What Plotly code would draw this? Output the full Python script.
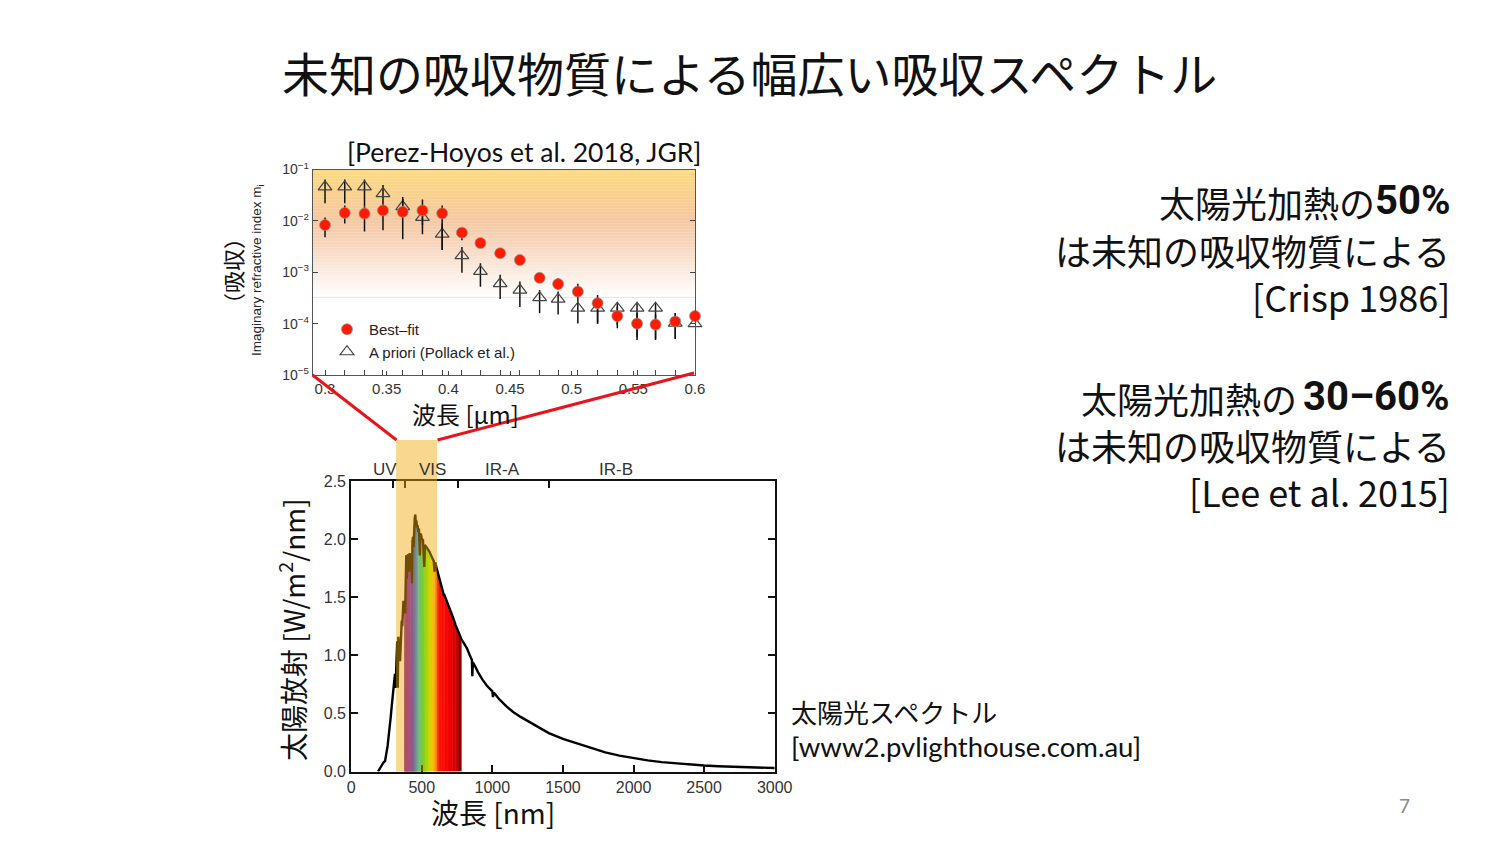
import plotly.graph_objects as go

W, H = 1500, 843

# ---------------- top panel data (Perez-Hoyos et al. 2018) ----------------
wl_um = [0.300, 0.316, 0.332, 0.347, 0.363, 0.379, 0.395, 0.411, 0.426, 0.442,
         0.458, 0.474, 0.489, 0.505, 0.521, 0.537, 0.553, 0.568, 0.584, 0.600]
best_fit = [8.3e-3, 1.43e-2, 1.39e-2, 1.6e-2, 1.5e-2, 1.6e-2, 1.4e-2, 5.9e-3, 3.7e-3, 2.35e-3,
            1.73e-3, 7.8e-4, 5.9e-4, 4.2e-4, 2.5e-4, 1.4e-4, 1.0e-4, 9.6e-5, 1.1e-4, 1.4e-4]
best_hi = [1.16e-2, 2.0e-2, 1.9e-2, 2.35e-2, 2.7e-2, 2.6e-2, 2.0e-2, 7.4e-3, 3.7e-3, 2.35e-3,
           1.73e-3, 9.5e-4, 7.6e-4, 6.0e-4, 3.6e-4, 2.1e-4, 1.6e-4, 1.5e-4, 1.6e-4, 1.4e-4]
best_lo = [4.8e-3, 8.9e-3, 6.2e-3, 6.6e-3, 4.4e-3, 5.5e-3, 2.7e-3, 4.2e-3, 3.7e-3, 2.35e-3,
           1.73e-3, 6.3e-4, 4.5e-4, 2.7e-4, 1.0e-4, 8.1e-5, 5.4e-5, 4.8e-5, 5.0e-5, 1.4e-4]
apriori = [4.6e-2, 4.6e-2, 4.6e-2, 3.4e-2, 1.9e-2, 1.17e-2, 5.5e-3, 2.1e-3, 1.04e-3, 6.0e-4,
           4.5e-4, 3.2e-4, 3.0e-4, 2.0e-4, 2.0e-4, 2.0e-4, 2.0e-4, 2.0e-4, 1.02e-4, 1.0e-4]
apriori_hi = [6.4e-2, 6.4e-2, 6.4e-2, 5.0e-2, 2.9e-2, 1.75e-2, 8.9e-3, 3.1e-3, 1.5e-3, 8.9e-4,
              6.6e-4, 4.5e-4, 4.2e-4, 2.7e-4, 3.3e-4, 2.5e-4, 2.5e-4, 2.5e-4, 1.6e-4, 1.0e-4]
apriori_lo = [2.2e-2, 2.2e-2, 1.9e-2, 2.3e-2, 1.3e-2, 8.3e-3, 2.7e-3, 9.8e-4, 5.2e-4, 3.0e-4,
              2.1e-4, 1.6e-4, 1.5e-4, 1.0e-4, 1.0e-4, 9.5e-5, 4.8e-5, 5.1e-5, 5.1e-5, 1.0e-4]
top_xticks = [0.3, 0.35, 0.4, 0.45, 0.5, 0.55, 0.6]
top_xticklabels = ["0.3", "0.35", "0.4", "0.45", "0.5", "0.55", "0.6"]
top_yticks = [1e-5, 1e-4, 1e-3, 1e-2, 1e-1]
top_yticklabels = ["10<sup>−5</sup>", "10<sup>−4</sup>", "10<sup>−3</sup>", "10<sup>−2</sup>", "10<sup>−1</sup>"]

# ---------------- bottom panel data (solar spectrum) ----------------
spec_nm = [190, 200, 215, 230, 240, 250, 258, 265, 272, 280, 287, 293, 298, 304, 310, 314, 318, 322,
           326, 330, 334, 338, 342, 346, 350, 354, 358, 362, 366, 370, 374, 378, 382, 386, 390, 394,
           398, 402, 406, 410, 414, 418, 422, 426, 430, 434, 438, 442, 446, 450, 454, 458, 462, 466,
           470, 475, 480, 486, 490, 496, 502, 508, 514, 518, 522, 528, 535, 545, 555, 565, 575, 585,
           590, 595, 605, 620, 640, 656, 660, 680, 700, 720, 740, 760, 780, 800, 820, 840, 855, 858,
           862, 880, 900, 930, 960, 1000, 1004, 1010, 1050, 1100, 1150, 1200, 1300, 1400, 1500, 1600,
           1700, 1800, 1900, 2000, 2100, 2200, 2300, 2400, 2500, 2600, 2700, 2800, 2900, 3000]
spec_val = [0.0, 0.02, 0.06, 0.08, 0.09, 0.15, 0.22, 0.30, 0.36, 0.47, 0.56, 0.63, 0.72, 0.78, 0.84, 0.72,
            0.95, 1.07, 1.12, 0.72, 1.16, 0.98, 1.10, 0.95, 1.12, 1.08, 1.30, 1.25, 1.42, 1.47, 1.38, 1.45,
            1.36, 1.62, 1.86, 1.66, 1.80, 1.87, 1.85, 1.72, 1.88, 1.84, 1.80, 1.86, 1.62, 1.98, 2.02, 1.93,
            2.12, 2.18, 2.21, 2.14, 2.16, 2.10, 2.12, 2.06, 2.09, 1.86, 2.05, 2.03, 1.99, 2.00, 1.90, 1.76,
            1.95, 1.94, 1.93, 1.91, 1.89, 1.86, 1.84, 1.81, 1.72, 1.80, 1.75, 1.68, 1.60, 1.52, 1.52, 1.46,
            1.40, 1.33, 1.26, 1.20, 1.14, 1.10, 1.06, 1.00, 0.96, 0.82, 0.94, 0.90, 0.85, 0.79, 0.74, 0.69,
            0.64, 0.68, 0.62, 0.56, 0.51, 0.47, 0.40, 0.33, 0.28, 0.24, 0.20, 0.165, 0.137, 0.114, 0.096,
            0.081, 0.069, 0.059, 0.051, 0.045, 0.040, 0.036, 0.033, 0.030]
bot_xticks = [0, 500, 1000, 1500, 2000, 2500, 3000]
bot_yticks = [0.0, 0.5, 1.0, 1.5, 2.0, 2.5]
band_names = ["UV", "VIS", "IR-A", "IR-B"]
band_label_nm = [240, 575, 1072, 1875]
band_edges_nm = [295, 380, 760, 1400]
visible_range = [380, 780]
highlight_nm = [318, 608]

FONT_JP = "Noto Sans CJK JP"
FONT_SANS = "Liberation Sans"
FONT_LAT = "Lato"
FONT_BOLD = "Liberation Sans Narrow, Roboto"


def px(x):
    return x / W


def py(y):
    return 1 - y / H


def interp_color(stops, v):
    if v <= stops[0][0]:
        return stops[0][1]
    for (a, ca), (b, cb) in zip(stops[:-1], stops[1:]):
        if a <= v <= b:
            t = (v - a) / (b - a)
            return tuple(round(ca[i] + (cb[i] - ca[i]) * t) for i in range(3))
    return stops[-1][1]


rainbow_stops = [(380, (110, 0, 150)), (410, (115, 0, 215)), (440, (40, 30, 255)),
                 (465, (0, 140, 255)), (485, (0, 215, 225)), (505, (0, 235, 90)),
                 (535, (90, 255, 0)), (565, (215, 240, 0)), (585, (255, 205, 0)),
                 (603, (255, 110, 0)), (620, (255, 20, 0)), (700, (240, 0, 0)),
                 (750, (200, 0, 0)), (780, (120, 0, 0))]

fig = go.Figure()

# ---- top panel traces ----
fig.add_trace(go.Scatter(
    x=wl_um, y=apriori, mode="markers", name="A priori (Pollack et al.)",
    marker=dict(symbol="triangle-up-open", size=12, color="#444444", line=dict(width=1.2)),
    error_y=dict(type="data", symmetric=False,
                 array=[h - v for h, v in zip(apriori_hi, apriori)],
                 arrayminus=[v - l for v, l in zip(apriori, apriori_lo)],
                 color="#111111", thickness=1.5, width=0),
    xaxis="x", yaxis="y", cliponaxis=False, legendrank=2))
fig.add_trace(go.Scatter(
    x=wl_um, y=best_fit, mode="markers", name="Best–fit",
    marker=dict(symbol="circle", size=11, color="#FF1A00",
                line=dict(width=1, color="rgba(150,150,150,0.7)")),
    error_y=dict(type="data", symmetric=False,
                 array=[h - v for h, v in zip(best_hi, best_fit)],
                 arrayminus=[v - l for v, l in zip(best_fit, best_lo)],
                 color="#111111", thickness=1.5, width=0),
    xaxis="x", yaxis="y", cliponaxis=False, legendrank=1))

# ---- bottom panel: rainbow fill under visible part ----
for i in range(len(spec_nm) - 1):
    x0, x1 = spec_nm[i], spec_nm[i + 1]
    if x0 < visible_range[0] - 2 or x1 > visible_range[1] + 2:
        continue
    c = interp_color(rainbow_stops, (x0 + x1) / 2)
    col = "rgb(%d,%d,%d)" % c
    fig.add_trace(go.Scatter(
        x=[x0, x0, x1, x1], y=[0, spec_val[i], spec_val[i + 1], 0],
        mode="lines", fill="toself", fillcolor=col, line=dict(width=0.6, color=col),
        xaxis="x2", yaxis="y2", showlegend=False, hoverinfo="skip"))

fig.add_trace(go.Scatter(
    x=spec_nm, y=spec_val, mode="lines", line=dict(color="black", width=2.4),
    xaxis="x2", yaxis="y2", showlegend=False))
# helper so that the top boundary-tick axis exists
fig.add_trace(go.Scatter(x=[None], y=[None], xaxis="x3", yaxis="y2", showlegend=False,
                         hoverinfo="skip"))

shapes = []
# gradient background of the top panel
grad_stops = [(170, (252, 218, 128)), (195, (249, 208, 142)), (220, (245, 200, 162)),
              (245, (247, 214, 190)), (272, (251, 236, 226)), (298, (255, 255, 255))]
yy = 169.5
while yy < 298:
    c = interp_color(grad_stops, yy + 1.5)
    col = "rgb(%d,%d,%d)" % c
    shapes.append(dict(type="rect", xref="paper", yref="paper", x0=px(313), x1=px(695),
                       y0=py(yy + 3.2), y1=py(yy), fillcolor=col, line=dict(width=0),
                       layer="below"))
    yy += 3
shapes.append(dict(type="line", xref="paper", yref="paper", x0=px(313), x1=px(695),
                   y0=py(297.5), y1=py(297.5), line=dict(color="#E8E8E8", width=1), layer="below"))

# highlighted band (0.3-0.6 µm) on the spectrum
shapes.append(dict(type="rect", xref="x2", yref="paper", x0=highlight_nm[0], x1=highlight_nm[1],
                   y0=py(771.5), y1=py(440), fillcolor="rgb(242,168,10)", opacity=0.46,
                   line=dict(width=0), layer="above"))
# red zoom lines
shapes.append(dict(type="line", xref="paper", yref="paper", x0=px(312.5), y0=py(375),
                   x1=px(396.5), y1=py(440), line=dict(color="#E8141C", width=3), layer="above"))
shapes.append(dict(type="line", xref="paper", yref="paper", x0=px(694), y0=py(373),
                   x1=px(437.5), y1=py(440), line=dict(color="#E8141C", width=3), layer="above"))

ann = []


def A(text, x, y, size, family=FONT_JP, color="#111111", xanchor="center", yanchor="middle",
      textangle=0, xref="paper"):
    ann.append(dict(text=text, x=x, y=y, xref=xref, yref="paper", showarrow=False,
                    font=dict(size=size, family=family, color=color), xanchor=xanchor,
                    yanchor=yanchor, textangle=textangle))


A("未知の吸収物質による幅広い吸収スペクトル", px(749), py(72), 47)
A("[Perez-Hoyos et al. 2018, JGR]", px(524), py(152), 26.5, family=FONT_LAT)
A("波長 [µm]", px(465), py(413), 24)
A("（吸収）", px(232), py(271), 22, textangle=-90)
A("Imaginary refractive index m<sub>i</sub>", px(257), py(270), 13.5, family=FONT_SANS,
  color="#222222", textangle=-90)
A("太陽放射 [W/m<sup>2</sup>/nm]", px(291), py(630), 28, textangle=-90)
A("波長 [nm]", px(493), py(812), 28)
for nm, name in zip(band_label_nm, band_names):
    A(name, nm, py(469), 17, family=FONT_SANS, color="#333333", xref="x2")
A("太陽光スペクトル", px(789), py(711), 26, xanchor="left")
A("[www2.pvlighthouse.com.au]", px(789), py(746), 27.5, family=FONT_LAT, xanchor="left")

# right-hand statements
A("太陽光加熱の", px(1377), py(202), 36, xanchor="right")
A("<b>50%</b>", px(1452), py(200), 40, family=FONT_BOLD, xanchor="right")
A("は未知の吸収物質による", px(1452), py(250), 36, xanchor="right")
A("[Crisp 1986]", px(1452), py(296), 36, xanchor="right")
A("太陽光加熱の", px(1299), py(398), 36, xanchor="right")
A("<b>30–60%</b>", px(1452), py(396), 40, family=FONT_BOLD, xanchor="right")
A("は未知の吸収物質による", px(1452), py(445), 36, xanchor="right")
A("[Lee et al. 2015]", px(1452), py(491), 36, xanchor="right")
A("7", px(1404), py(805), 19, family=FONT_LAT, color="#8A8A8A")

fig.update_layout(
    width=W, height=H, autosize=False,
    margin=dict(l=0, r=0, t=0, b=0, pad=0, autoexpand=False),
    paper_bgcolor="white", plot_bgcolor="rgba(0,0,0,0)",
    showlegend=True,
    legend=dict(x=px(325), y=py(313), xanchor="left", yanchor="top", bgcolor="rgba(0,0,0,0)",
                font=dict(size=15, family=FONT_SANS, color="#222222"), tracegroupgap=0,
                itemwidth=34),
    xaxis=dict(domain=[px(312.7), px(695)], range=[0.29, 0.6], anchor="y", automargin=False,
               tickmode="array", tickvals=top_xticks, ticktext=top_xticklabels,
               ticks="inside", ticklen=4, tickcolor="#444", showgrid=False, zeroline=False,
               showline=True, linecolor="#555555", linewidth=1, mirror=True,
               tickfont=dict(size=15, family=FONT_SANS, color="#333333"),
               minor=dict(tickmode="array", tickvals=wl_um, ticks="inside", ticklen=5,
                          tickcolor="#444", showgrid=False)),
    yaxis=dict(domain=[py(375), py(169.5)], type="log", range=[-5, -1], anchor="x",
               automargin=False,
               tickmode="array", tickvals=top_yticks, ticktext=top_yticklabels,
               ticks="inside", ticklen=5, tickcolor="#444", showgrid=False, zeroline=False,
               showline=True, linecolor="#555555", linewidth=1, mirror="ticks",
               tickfont=dict(size=14, family=FONT_SANS, color="#333333")),
    xaxis2=dict(domain=[px(351.2), px(774.7)], range=[0, 3000], anchor="y2", automargin=False,
                tickmode="array", tickvals=bot_xticks, ticks="inside", ticklen=7, tickwidth=2,
                tickcolor="#111", showgrid=False, zeroline=False, showline=True,
                linecolor="#111111", linewidth=2, mirror=True,
                tickfont=dict(size=16, family=FONT_SANS, color="#333333")),
    xaxis3=dict(overlaying="x2", anchor="y2", side="top", range=[0, 3000], automargin=False,
                tickmode="array", tickvals=band_edges_nm, ticks="inside", ticklen=7, tickwidth=2,
                tickcolor="#111", showticklabels=False, showgrid=False, zeroline=False,
                showline=False),
    yaxis2=dict(domain=[py(771.5), py(481)], range=[0, 2.5], anchor="x2", automargin=False,
                tickmode="array", tickvals=bot_yticks, tickformat=".1f", ticks="inside",
                ticklen=7, tickwidth=2, tickcolor="#111", showgrid=False, zeroline=False,
                showline=True, linecolor="#111111", linewidth=2, mirror="ticks",
                tickfont=dict(size=16, family=FONT_SANS, color="#333333")),
    shapes=shapes, annotations=ann,
)

fig.write_html("out.html")
